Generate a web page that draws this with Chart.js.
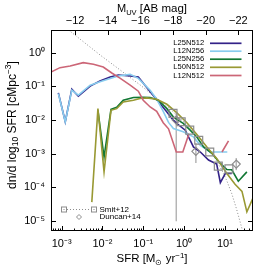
<!DOCTYPE html>
<html><head><meta charset="utf-8">
<script src="https://cdn.jsdelivr.net/npm/chart.js@4.4.1/dist/chart.umd.min.js"></script>
<style>html,body{margin:0;padding:0;background:#fff;}canvas{display:block;}</style>
</head><body>
<canvas id="c" width="269" height="276"></canvas>
<script>
// ---- values (log10 units) ----
const logSFR_L25N512 = [-3.08,-2.91,-2.75,-2.59,-2.30,-2.06,-1.81,-1.61,-1.32,-1.12,-0.83,-0.59,-0.42,-0.30,-0.18,0.03,0.23,0.40,0.60,0.80,0.89,1.01,1.17];
const logN_L25N512   = [-1.19,-2.05,-1.08,-1.29,-0.99,-0.84,-0.72,-0.66,-0.69,-0.72,-1.16,-1.51,-1.76,-1.95,-2.10,-2.30,-2.80,-2.95,-3.19,-3.31,-3.86,-3.59,-3.59];

const logSFR_L12N256 = [-3.08,-2.91,-2.75,-2.59,-2.30,-2.06,-1.81,-1.61,-1.32,-1.12,-0.83,-0.67,-0.51,-0.38,-0.26,-0.02,0.23,0.40,0.64,1.06];
const logN_L12N256   = [-1.21,-2.05,-1.11,-1.26,-0.96,-0.86,-0.76,-0.69,-0.64,-0.76,-1.11,-1.38,-1.74,-2.07,-2.25,-2.35,-2.50,-2.75,-2.95,-2.95];

const logSFR_L25N256 = [-2.11,-1.96,-1.79,-1.65,-1.49,-1.24,-1.00,-0.83,-0.63,-0.42,-0.26,-0.02,0.15,0.31,0.48,0.68,0.89,1.05,1.17,1.33,1.54];
const logN_L25N256   = [-1.71,-3.10,-1.68,-1.62,-1.41,-1.33,-1.32,-1.33,-1.41,-1.66,-1.91,-2.10,-2.30,-2.50,-2.80,-2.99,-3.29,-3.47,-3.48,-3.82,-3.54];

const logSFR_L50N512 = [-2.26,-2.11,-1.96,-1.79,-1.65,-1.49,-1.24,-1.08,-0.91,-0.67,-0.42,-0.18,0.07,0.31,0.56,0.80,1.05,1.25,1.42,1.54,1.70];
const logN_L50N512   = [-4.44,-1.66,-3.54,-1.71,-1.66,-1.46,-1.41,-1.36,-1.34,-1.38,-1.53,-1.78,-2.08,-2.42,-2.80,-3.14,-3.59,-3.91,-4.12,-4.73,-4.29];

const logSFR_L12N512 = [-3.26,-3.04,-2.79,-2.47,-2.22,-1.98,-1.77,-1.57,-1.32,-1.12,-1.00,-0.83,-0.67,-0.51,-0.38,-0.19,-0.03,0.12,0.50,0.93,1.09];
const logN_L12N512   = [-0.57,-0.44,-0.39,-0.29,-0.34,-0.42,-0.60,-0.75,-0.96,-1.14,-1.41,-1.61,-1.74,-2.08,-2.26,-2.95,-2.95,-2.41,null,-2.95,-2.62];

const logSFR_Smit12fit = [-2.95,-2.83,-2.05,-1.07,-0.34,0.15,0.51,0.76,0.93,1.05,1.17,1.29,1.42];
const logN_Smit12fit   = [0.79,0.68,-0.07,-0.96,-1.67,-2.24,-2.73,-3.14,-3.50,-3.81,-4.19,-4.66,-5.23];

const logSFR_Smit12 = [-0.27,-0.07,0.14,0.36,0.63,0.84,1.10];
const logN_Smit12   = [-1.80,-2.05,-2.30,-2.60,-2.95,-3.37,-3.45];

const logSFR_Duncan14 = [-0.19,0.29,1.28];
const logN_Duncan14   = [-2.00,-2.93,-3.31];
const logNlo_Duncan14 = [-5.01,-3.28,-3.49];
const logNhi_Duncan14 = [-1.77,-2.69,-3.13];

const seriesNames = ['L25N512','L12N256','L25N256','L50N512','L12N512'];
const seriesColors = ['#332288','#88CCEE','#117733','#999933','#CC6677'];

const sfrTicks = [1e-3,1e-2,1e-1,1e0,1e1];
const sfrTickLabels = ['10\u207B\u00B3','10\u207B\u00B2','10\u207B\u00B9','10\u2070','10\u00B9'];
const nTicks = [1e0,1e-1,1e-2,1e-3,1e-4,1e-5];
const nTickLabels = ['10\u2070','10\u207B\u00B9','10\u207B\u00B2','10\u207B\u00B3','10\u207B\u2074','10\u207B\u2075'];
const muvTicks = [-22,-20,-18,-16,-14,-12];

const FONT = '"Liberation Sans", Arial, Helvetica, sans-serif';
const GREY = '#8c8c8c';

const pts = (xs, ys) => xs.map((v,i)=>({x: Math.pow(10,v), y: ys[i]===null ? null : Math.pow(10,ys[i])}));

const sims = [
  [logSFR_L25N512, logN_L25N512],
  [logSFR_L12N256, logN_L12N256],
  [logSFR_L25N256, logN_L25N256],
  [logSFR_L50N512, logN_L50N512],
  [logSFR_L12N512, logN_L12N512]
];

const datasets = sims.map((s,i)=>({
  label: seriesNames[i], data: pts(s[0], s[1]), showLine:true,
  borderColor: seriesColors[i], backgroundColor: seriesColors[i],
  borderWidth: 1.6, pointRadius: 0, spanGaps:false, order: 5 - i
}));
datasets.push({label:'Smit+12 fit', data: pts(logSFR_Smit12fit, logN_Smit12fit), showLine:true,
  borderColor: GREY, borderWidth: 1, borderDash:[1,2], pointRadius:0, order: 6});
datasets.push({label:'Smit+12', data: pts(logSFR_Smit12, logN_Smit12), showLine:false,
  pointStyle:'rect', pointRadius:5.6, borderColor: GREY, backgroundColor:'rgba(0,0,0,0)', pointBorderWidth:1.2, order:0});
datasets.push({label:'Duncan+14', data: pts(logSFR_Duncan14, logN_Duncan14), showLine:false,
  pointStyle:'rectRot', pointRadius:4, borderColor: GREY, backgroundColor:'rgba(0,0,0,0)', pointBorderWidth:1.2, order:0});

function rich(ctx, segs, x, y, align){
  let w = 0;
  segs.forEach(s=>{ ctx.font = s[1]+'px '+FONT; s.w = ctx.measureText(s[0]).width; w += s.w; });
  let cx = align==='center' ? x - w/2 : x;
  ctx.textAlign = 'left'; ctx.textBaseline = 'alphabetic';
  segs.forEach(s=>{ ctx.font = s[1]+'px '+FONT; ctx.fillText(s[0], cx, y + s[2]); cx += s.w; });
}

const decor = {
  id:'decor',
  beforeDatasetsDraw(chart){
    const ctx = chart.ctx, xs = chart.scales.x, ys = chart.scales.y;
    ctx.save();
    ctx.strokeStyle = '#b5b5b5'; ctx.lineWidth = 1.5;
    logSFR_Duncan14.forEach((v,i)=>{
      const px = xs.getPixelForValue(Math.pow(10,v));
      ctx.beginPath();
      ctx.moveTo(px, ys.getPixelForValue(Math.pow(10,logNhi_Duncan14[i])));
      ctx.lineTo(px, ys.getPixelForValue(Math.pow(10,logNlo_Duncan14[i])));
      ctx.stroke();
    });
    ctx.restore();
  },
  afterDraw(chart){
    const ctx = chart.ctx, a = chart.chartArea;
    const xs = chart.scales.x, ys = chart.scales.y, xt = chart.scales.x2;
    ctx.save();
    ctx.strokeStyle = '#000'; ctx.lineWidth = 1;
    ctx.strokeRect(a.left+0.5, a.top+0.5, a.right-a.left-1, a.bottom-a.top-1);
    ctx.beginPath();
    nTicks.forEach(v=>{
      const py = Math.round(ys.getPixelForValue(v))+0.5;
      ctx.moveTo(a.left, py); ctx.lineTo(a.left+5, py);
      ctx.moveTo(a.right, py); ctx.lineTo(a.right-5, py);
    });
    for (let e=-4; e<=2; e++){
      for (let m=1; m<=9; m++){
        const v = m*Math.pow(10,e);
        if (v < xs.min || v > xs.max) continue;
        const px = Math.round(xs.getPixelForValue(v))+0.5;
        const len = m===1 ? 5 : 2.5;
        ctx.moveTo(px, a.bottom); ctx.lineTo(px, a.bottom-len);
      }
    }
    muvTicks.forEach(v=>{
      const px = Math.round(xt.getPixelForValue(v))+0.5;
      ctx.moveTo(px, a.top); ctx.lineTo(px, a.top+5);
    });
    ctx.stroke();

    ctx.fillStyle = '#000';
    rich(ctx, [['M',11,0],['UV',7.5,2.5],[' [AB mag]',11.5,0]], (a.left+a.right)/2, 12, 'center');
    rich(ctx, [['SFR [M',11.5,0],['\u2299',8,2.5],[' yr',11.5,0],['\u22121',8,-4.5],[']',11.5,0]], (a.left+a.right)/2, 262, 'center');
    ctx.save();
    ctx.translate(15.5, 125); ctx.rotate(-Math.PI/2);
    rich(ctx, [['dn/d log',12,0],['10',8.5,2.5],[' SFR [cMpc',12,0],['\u22123',8.5,-4.5],[']',12,0]], 0, 0, 'center');
    ctx.restore();

    ctx.font = '7.6px '+FONT; ctx.textBaseline = 'middle'; ctx.textAlign='left';
    const rows = [43.3, 51.2, 59.2, 67.3, 75.5];
    seriesNames.forEach((n,i)=>{
      ctx.fillStyle = '#000';
      ctx.fillText(n, 173.3, rows[i]);
      ctx.strokeStyle = seriesColors[i]; ctx.lineWidth = 1.7;
      ctx.beginPath(); ctx.moveTo(210, rows[i]); ctx.lineTo(241.5, rows[i]); ctx.stroke();
    });
    ctx.strokeStyle = GREY; ctx.lineWidth = 1;
    ctx.setLineDash([1,2]);
    ctx.beginPath(); ctx.moveTo(67, 209.5); ctx.lineTo(91, 209.5); ctx.stroke();
    ctx.setLineDash([]);
    [64, 94].forEach(cx=>{
      ctx.strokeRect(cx-2.5, 207, 5, 5);
      ctx.fillStyle = GREY; ctx.fillRect(cx-0.5, 209, 1, 1);
    });
    ctx.beginPath(); ctx.moveTo(79, 214.5); ctx.lineTo(81.5, 217); ctx.lineTo(79, 219.5); ctx.lineTo(76.5, 217); ctx.closePath(); ctx.stroke();
    ctx.fillStyle = '#000'; ctx.font = '8px '+FONT;
    ctx.fillText('Smit+12', 99.5, 209.5);
    ctx.fillText('Duncan+14', 99.5, 217);
    ctx.restore();
  }
};

new Chart(document.getElementById('c'), {
  type:'scatter',
  data:{datasets},
  plugins:[decor],
  options:{
    responsive:false, animation:false, devicePixelRatio:1,
    layout:{padding:{left:0,right:16,top:0,bottom:0}},
    plugins:{legend:{display:false}, tooltip:{enabled:false}},
    scales:{
      x:{type:'logarithmic', position:'bottom', min:Math.pow(10,-3.26), max:Math.pow(10,1.69),
        afterBuildTicks:s=>{ s.ticks = sfrTicks.map(v=>({value:v})); },
        afterFit:s=>{ s.height = 45; },
        grid:{display:false, drawTicks:false}, border:{display:false},
        ticks:{font:{family:FONT,size:11}, color:'#000', padding:6, maxRotation:0, autoSkip:false,
          callback:(v,i)=>sfrTickLabels[i]}},
      x2:{type:'linear', position:'top', min:-22.90, max:-10.52, reverse:true,
        afterBuildTicks:s=>{ s.ticks = muvTicks.map(v=>({value:v})); },
        afterFit:s=>{ s.height = 30; },
        grid:{display:false, drawTicks:false}, border:{display:false},
        ticks:{font:{family:FONT,size:11}, color:'#000', padding:2, maxRotation:0, autoSkip:false,
          callback:(v)=>'\u2212'+Math.abs(v)}},
      y:{type:'logarithmic', position:'left', min:Math.pow(10,-5.3), max:Math.pow(10,0.68),
        afterBuildTicks:s=>{ s.ticks = nTicks.map(v=>({value:v})); },
        afterFit:s=>{ s.width = 51; },
        grid:{display:false, drawTicks:false}, border:{display:false},
        ticks:{font:{family:FONT,size:11}, color:'#000', padding:6, autoSkip:false,
          callback:(v,i)=>nTickLabels[i]}}
    }
  }
});
</script>
</body></html>
